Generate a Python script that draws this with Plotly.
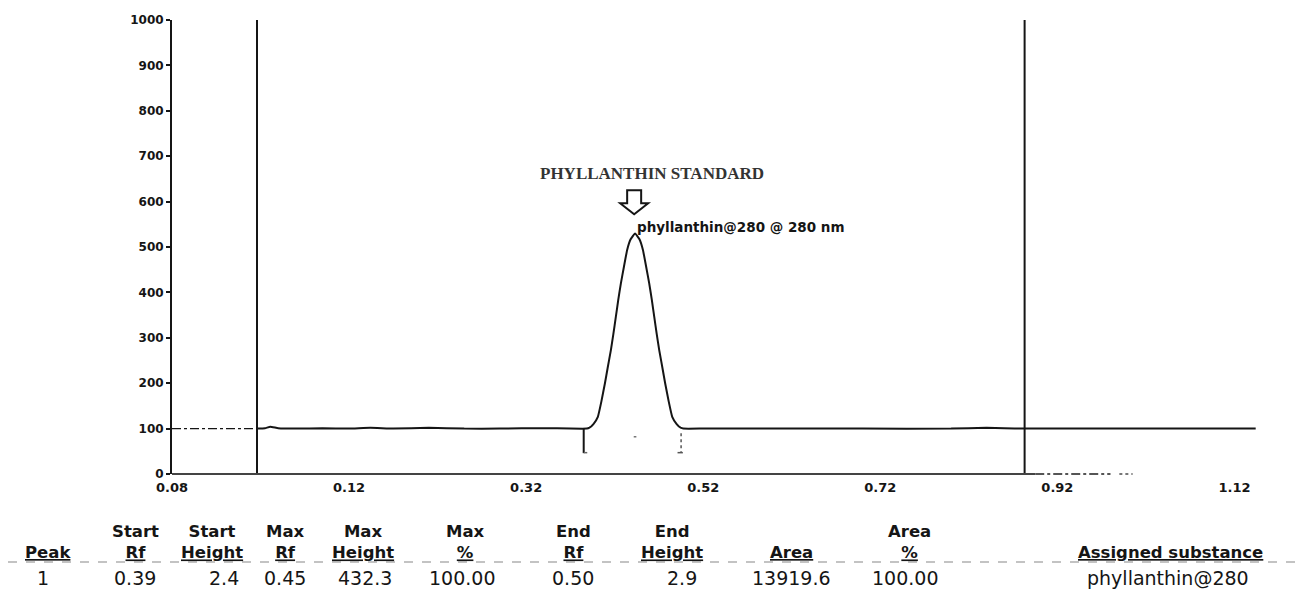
import plotly.graph_objects as go

# ---------------- data ----------------
rf_signal = [0.016, 0.025, 0.031, 0.040, 0.060, 0.090, 0.120, 0.144, 0.170, 0.210, 0.250,
             0.290, 0.340, 0.370, 0.3885, 0.3915, 0.396, 0.401, 0.405, 0.409, 0.412, 0.4157,
             0.4185, 0.4213, 0.424, 0.427, 0.4305, 0.434, 0.438, 0.443, 0.448, 0.452, 0.4555,
             0.459, 0.462, 0.4647, 0.4675, 0.4703, 0.474, 0.477, 0.481, 0.485, 0.490, 0.4945,
             0.4975, 0.520, 0.600, 0.700, 0.800, 0.840, 0.860, 0.883, 0.950, 1.050, 1.144]
intensity = [100, 101, 104, 101, 100, 101, 100, 102, 100, 102, 100,
             100, 101, 100, 100, 102, 110, 126, 160, 200, 233, 273,
             308, 346, 383, 420, 457, 493, 517, 530, 517, 493, 457,
             420, 383, 346, 308, 273, 233, 200, 160, 126, 110, 102,
             100, 100, 100, 100, 100, 102, 101, 100, 100, 100, 100]

marker_lines_rf = [0.016, 0.883]      # application line, solvent front
baseline_level = 100
peak_start_rf, peak_max_rf, peak_end_rf = 0.385, 0.443, 0.494

y_ticks = list(range(0, 1001, 100))
x_tickvals = [-0.08, 0.12, 0.32, 0.52, 0.72, 0.92, 1.12]
x_ticktext = ["0.08", "0.12", "0.32", "0.52", "0.72", "0.92", "1.12"]

header_top = ["", "Start", "Start", "Max", "Max", "Max", "End", "End", "", "Area", ""]
header_bottom = ["Peak", "Rf", "Height", "Rf", "Height", "%", "Rf", "Height", "Area", "%",
                 "Assigned substance"]
row_values = ["1", "0.39", "2.4", "0.45", "432.3", "100.00", "0.50", "2.9", "13919.6",
              "100.00", "phyllanthin@280"]

# ---------------- layout geometry ----------------
W, H = 1299, 589
L, R, T, B = 172, 38, 20, 115
PW, PH = W - L - R, H - T - B
header_x = [48, 135, 212, 285, 363, 465, 573, 672, 791, 909, 1170]
value_x = [43, 135, 224, 285, 365, 462, 573, 682, 791, 905, 1168]


def fx(p):
    return (p - L) / PW


def fy(p):
    return (H - B - p) / PH


INK = "#151515"

fig = go.Figure()

fig.add_trace(go.Scatter(x=rf_signal, y=intensity, mode="lines",
                         line=dict(color=INK, width=2, shape="spline", smoothing=0.3),
                         hoverinfo="skip", showlegend=False))

shapes = []
for xv in marker_lines_rf:
    shapes.append(dict(type="line", xref="x", yref="y", x0=xv, x1=xv, y0=0, y1=1000,
                       line=dict(color=INK, width=2)))
shapes.append(dict(type="line", xref="x", yref="y", x0=-0.08, x1=marker_lines_rf[0],
                   y0=baseline_level, y1=baseline_level,
                   line=dict(color=INK, width=1.2, dash="dashdot")))
# x-axis line (solid, then dash-dot, then dots)
shapes.append(dict(type="line", xref="x", yref="paper", x0=-0.08, x1=0.895, y0=0, y1=0,
                   line=dict(color="#444", width=2)))
shapes.append(dict(type="line", xref="x", yref="paper", x0=0.895, x1=0.98, y0=0, y1=0,
                   line=dict(color="#555", width=2, dash="dashdot")))
shapes.append(dict(type="line", xref="x", yref="paper", x0=0.99, x1=1.005, y0=0, y1=0,
                   line=dict(color="#777", width=2, dash="dot")))
# peak start marker
shapes.append(dict(type="line", xref="x", yref="y", x0=peak_start_rf, x1=peak_start_rf,
                   y0=baseline_level, y1=46, line=dict(color=INK, width=2)))
shapes.append(dict(type="line", xref="x", yref="y", x0=peak_start_rf, x1=peak_start_rf + 0.004,
                   y0=47, y1=47, line=dict(color="#666", width=1.5)))
# peak end marker (dotted)
shapes.append(dict(type="line", xref="x", yref="y", x0=peak_end_rf + 0.001, x1=peak_end_rf + 0.001,
                   y0=90, y1=47, line=dict(color="#555", width=1.5, dash="dot")))
shapes.append(dict(type="line", xref="x", yref="y", x0=peak_end_rf - 0.003, x1=peak_end_rf + 0.003,
                   y0=47, y1=47, line=dict(color="#555", width=1.5)))
# peak max dot
shapes.append(dict(type="line", xref="x", yref="y", x0=peak_max_rf - 0.0015, x1=peak_max_rf + 0.0015,
                   y0=82, y1=82, line=dict(color="#777", width=1.5)))
# hollow down arrow above peak
shapes.append(dict(type="path", xref="x", yref="y", xsizemode="pixel", ysizemode="pixel",
                   xanchor=peak_max_rf - 0.001, yanchor=572,
                   path="M -7,24 L 7,24 L 7,11 L 14,11 L 0,0 L -14,11 L -7,11 Z",
                   line=dict(color=INK, width=2), fillcolor="white"))
# table rule
shapes.append(dict(type="line", xref="paper", yref="paper", x0=fx(8), x1=fx(1297),
                   y0=fy(562), y1=fy(562), line=dict(color="#888", width=1.2, dash="dash")))

annotations = [
    dict(x=0.462, y=663, xref="x", yref="y", text="<b>PHYLLANTHIN STANDARD</b>",
         showarrow=False, xanchor="center", yanchor="middle",
         font=dict(family="Liberation Serif", size=17, color="#333")),
    dict(x=peak_max_rf, y=545, xref="x", yref="y", text="<b>phyllanthin@280 @ 280 nm</b>",
         showarrow=False, xanchor="left", yanchor="middle",
         font=dict(family="DejaVu Sans", size=13.5, color=INK)),
]

hfont = dict(family="DejaVu Sans", size=16.5, color=INK)
vfont = dict(family="DejaVu Sans", size=19, color=INK)
for xp, t1, t2 in zip(header_x, header_top, header_bottom):
    text = "<b><u>%s</u></b>" % t2
    if t1:
        text = "<b>%s</b><br>" % t1 + text
    annotations.append(dict(x=fx(xp), y=fy(563), xref="paper", yref="paper",
                            xanchor="center", yanchor="bottom", align="center",
                            text=text, showarrow=False, font=hfont, borderpad=0))
for xp, v in zip(value_x, row_values):
    annotations.append(dict(x=fx(xp), y=fy(578), xref="paper", yref="paper",
                            xanchor="center", yanchor="middle",
                            text=v, showarrow=False, font=vfont))

fig.update_layout(
    width=W, height=H,
    margin=dict(l=L, r=R, t=T, b=B, pad=0),
    paper_bgcolor="white", plot_bgcolor="white",
    showlegend=False,
    shapes=shapes, annotations=annotations,
    xaxis=dict(range=[-0.08, 1.15], tickvals=x_tickvals, ticktext=x_ticktext,
               showgrid=False, zeroline=False, showline=False, ticks="",
               ticklabelstandoff=4,
               tickfont=dict(family="DejaVu Sans", size=13, color=INK, weight="bold")),
    yaxis=dict(range=[0, 1000], tickvals=y_ticks, showgrid=False, zeroline=False,
               showline=True, linecolor=INK, linewidth=2, ticks="outside", ticklen=4,
               tickwidth=1.5, tickcolor=INK,
               tickfont=dict(family="DejaVu Sans", size=12, color=INK, weight="bold")),
)

fig.write_html("out.html")
